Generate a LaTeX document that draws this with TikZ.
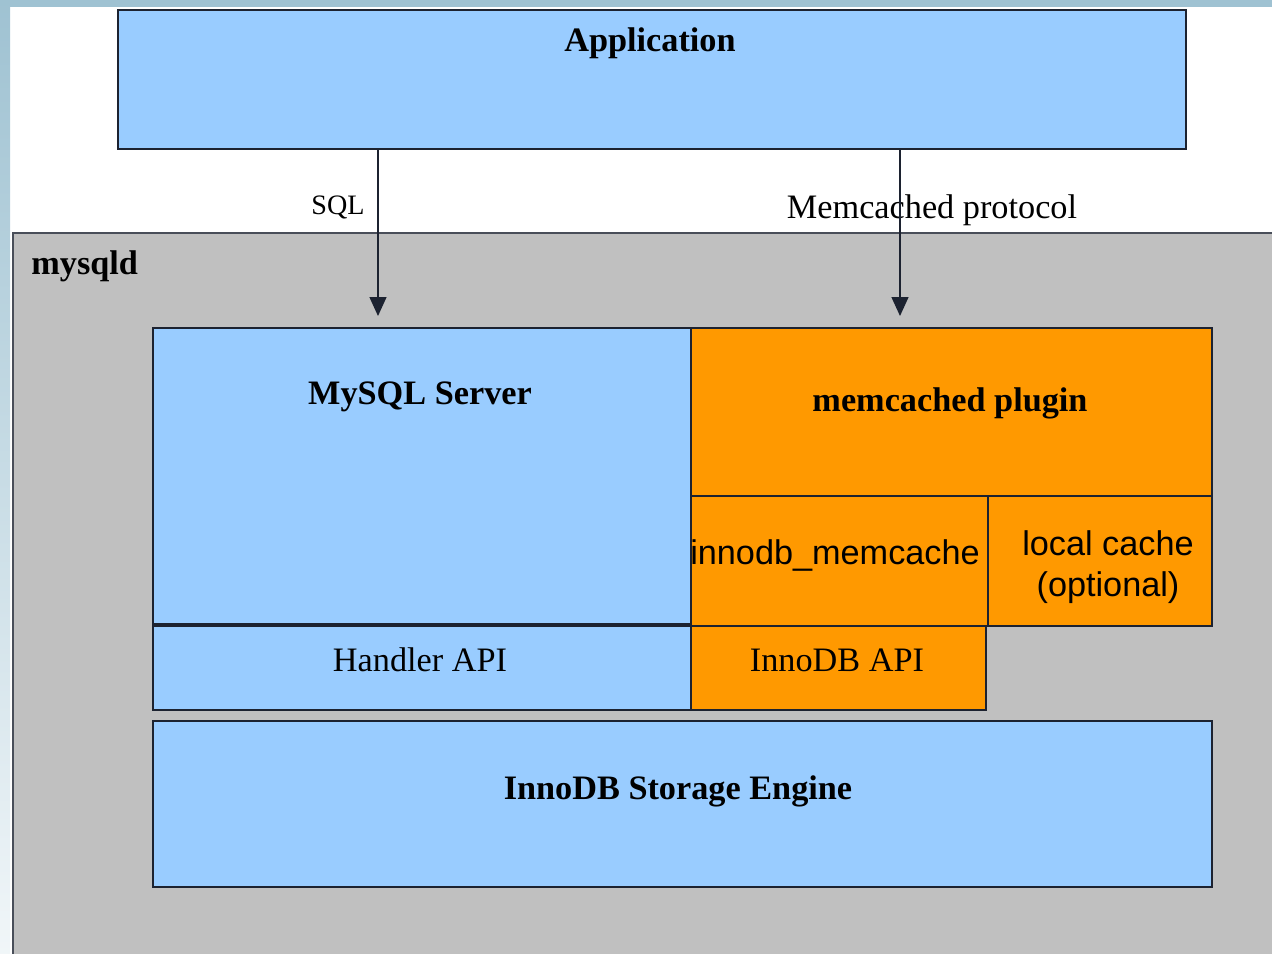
\documentclass[tikz,border=0pt]{standalone}
\usepackage{fontspec}
\setmainfont{Liberation Serif}
\setsansfont{Liberation Sans}
\usetikzlibrary{arrows.meta}
\usetikzlibrary{positioning}
\definecolor{appblue}{HTML}{99CCFF}
\definecolor{plugorange}{HTML}{FF9900}
\definecolor{srvgray}{HTML}{C0C0C0}
\definecolor{boxline}{HTML}{1C2230}
\definecolor{stripblue}{HTML}{9FC2D2}
\tikzset{box/.style = {draw = boxline, line width = 1.1pt, inner sep = 0, anchor = north west}}
\tikzset{bluebox/.style = {box, fill = appblue}}
\tikzset{orangebox/.style = {box, fill = plugorange}}
\tikzset{lbl/.style = {inner sep = 0, font = \fontsize{19.5}{23}\selectfont}}
\tikzset{boldlbl/.style = {lbl, font = \fontsize{19.5}{23}\selectfont\bfseries}}
\tikzset{sanslbl/.style = {lbl, align = center, font = \fontsize{19.5}{23}\selectfont\sffamily}}
\tikzset{flow/.style = {draw = boxline, line width = 0.8pt, -{Triangle[width = 0.34cm, length = 0.38cm]}}}

\begin{document}
\begin{tikzpicture}[x = 0.02cm, y = -0.02cm]
      \useasboundingbox (0, 0) rectangle (1272, 954);
      \clip (0, 0) rectangle (1272, 954);
      % background and frame strips
      \fill [white] (0, 0) rectangle (1272, 954);
      \fill [stripblue] (0, 0) rectangle (1272, 7);
      \shade [top color = stripblue, middle color = stripblue!75, bottom color = stripblue!15] (0, 0) rectangle (10, 954);
      % application
      \node [bluebox, minimum width = 21.36cm, minimum height = 2.78cm] (app) at (117, 9) {};
      \node [boldlbl] (applbl) at (650, 43) {Application};
      % mysqld
      \draw [fill = srvgray, draw = boxline!80, line width = 1.1pt] (13, 233) rectangle (1290, 970);
      \node [boldlbl, anchor = west] (mysqldlbl) at (31, 266) {mysqld};
      % server parts
      \node [bluebox, minimum width = 10.76cm, minimum height = 5.96cm] (srv) at (152, 327) {};
      \node [orangebox, minimum width = 10.42cm, minimum height = 3.36cm] (plug) at (690, 327) {};
      \node [orangebox, minimum width = 5.94cm, minimum height = 2.6cm] (imc) at (690, 495) {};
      \node [orangebox, minimum width = 4.48cm, minimum height = 2.6cm] (lcache) at (987, 495) {};
      \node [bluebox, minimum width = 10.76cm, minimum height = 1.68cm] (hapi) at (152, 625) {};
      \node [orangebox, minimum width = 5.9cm, minimum height = 1.68cm] (iapi) at (690, 625) {};
      \node [bluebox, minimum width = 21.18cm, minimum height = 3.32cm] (ise) at (152, 720) {};
      \draw [draw = boxline, line width = 1.8pt] (hapi.north west) -- (hapi.north east);
      % labels
      \node [boldlbl] (srvlbl) at (420, 397) {MySQL Server};
      \node [boldlbl] (pluglbl) at (950, 403) {memcached plugin};
      \node [sanslbl] (imclbl) at (835, 555) {innodb\_memcache};
      \node [sanslbl] (lcachelbl) at (1108, 567) {local cache\\(optional)};
      \node [lbl] (hapilbl) at (420, 660) {Handler API};
      \node [lbl] (iapilbl) at (837, 660) {InnoDB API};
      \node [boldlbl] (iselbl) at (678, 791) {InnoDB Storage Engine};
      % protocols
      \node [lbl, font = \fontsize{16}{19}\selectfont] (sqllbl) at (338, 207) {SQL};
      \node [lbl] (memlbl) at (932, 210) {Memcached protocol};
      \coordinate (sqlend) at (378, 316);
      \coordinate (memend) at (900, 316);
      \draw [flow] (sqlend |- app.south) -- (sqlend);
      \draw [flow] (memend |- app.south) -- (memend);
    \end{tikzpicture}
\end{document}
